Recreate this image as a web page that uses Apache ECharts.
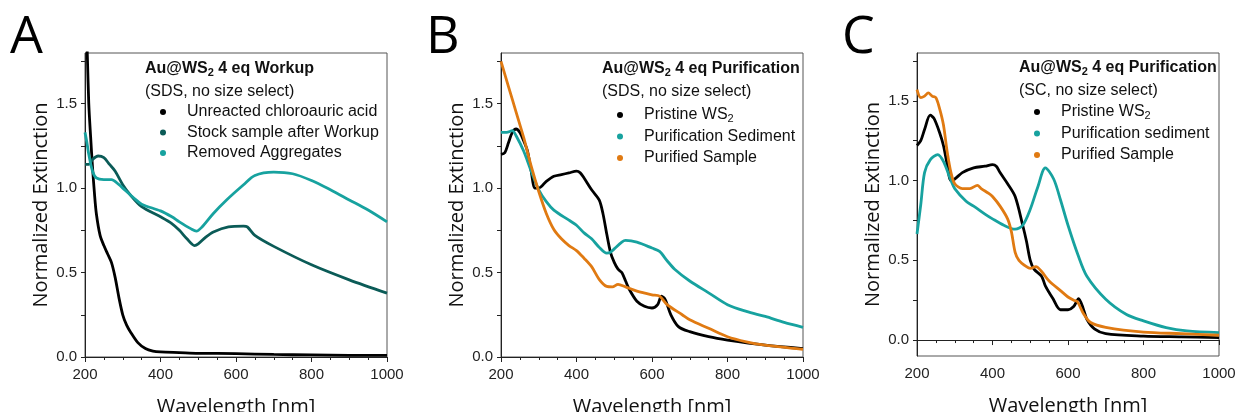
<!DOCTYPE html>
<html>
<head>
<meta charset="utf-8">
<script src="https://cdn.jsdelivr.net/npm/echarts@6/dist/echarts.min.js"></script>
<style>
html,body{margin:0;padding:0;background:#fff;}
#chart{width:1236px;height:412px;}
</style>
</head>
<body>
<div id="chart"></div>
<script>
// ---------- Data ----------
const xTickLabels = [200, 400, 600, 800, 1000];
const yTickLabels = [0, 0.5, 1.0, 1.5];
const yMinorTicks = [0, 0.25, 0.5, 0.75, 1.0, 1.25, 1.5, 1.75];

// Panel A
const A_unreacted_wl  = [200,203,206,210,215,220,225,230,240,250,260,270,280,290,300,310,320,340,360,380,400,450,500,600,700,800,900,1000];
const A_unreacted_val = [2.2,2.0,1.8,1.5,1.3,1.12,0.97,0.85,0.72,0.66,0.61,0.56,0.47,0.35,0.25,0.19,0.15,0.085,0.05,0.035,0.03,0.026,0.022,0.02,0.015,0.012,0.01,0.01];
const A_stock_wl  = [200,210,220,235,250,265,280,300,320,350,400,430,450,470,490,500,520,540,580,620,630,650,700,800,900,1000];
const A_stock_val = [1.14,1.14,1.17,1.19,1.18,1.14,1.10,1.02,0.96,0.89,0.83,0.79,0.75,0.70,0.66,0.67,0.71,0.74,0.77,0.775,0.77,0.72,0.655,0.546,0.457,0.378];
const A_removed_wl  = [200,205,210,220,230,250,270,290,300,330,350,400,430,450,480,495,510,540,575,620,650,700,750,800,850,900,950,1000];
const A_removed_val = [1.33,1.27,1.20,1.10,1.06,1.05,1.05,1.02,1.00,0.94,0.905,0.865,0.83,0.80,0.76,0.745,0.77,0.85,0.93,1.02,1.075,1.095,1.085,1.045,0.99,0.93,0.87,0.80];

// Panel B
const B_pristine_wl  = [200,210,220,230,240,250,260,270,280,290,300,320,340,360,380,400,410,420,440,460,470,480,490,500,510,520,530,540,560,580,600,615,625,635,650,670,700,750,800,900,1000];
const B_pristine_val = [1.20,1.21,1.27,1.33,1.35,1.33,1.28,1.22,1.10,1.00,1.00,1.04,1.07,1.08,1.09,1.10,1.09,1.06,0.99,0.93,0.85,0.73,0.62,0.56,0.52,0.50,0.45,0.40,0.33,0.30,0.29,0.31,0.36,0.34,0.25,0.18,0.15,0.12,0.10,0.07,0.05];
const B_sediment_wl  = [200,215,230,240,260,280,300,320,340,380,400,420,440,460,480,490,500,520,530,560,600,620,640,660,700,750,800,850,900,950,1000];
const B_sediment_val = [1.33,1.33,1.34,1.31,1.22,1.10,0.99,0.92,0.87,0.81,0.78,0.735,0.70,0.65,0.615,0.62,0.64,0.68,0.69,0.68,0.645,0.625,0.57,0.52,0.45,0.38,0.31,0.27,0.24,0.205,0.176];
const B_purified_wl  = [200,220,240,260,280,300,320,340,360,380,400,420,440,460,480,495,510,530,560,600,620,640,680,700,750,800,850,900,1000];
const B_purified_val = [1.75,1.60,1.45,1.30,1.13,0.98,0.85,0.755,0.70,0.66,0.63,0.585,0.535,0.46,0.418,0.415,0.43,0.415,0.39,0.368,0.36,0.31,0.25,0.22,0.17,0.12,0.09,0.07,0.045];

// Panel C
const C_pristine_wl  = [200,210,220,235,245,260,270,280,290,300,320,350,380,400,410,420,440,460,480,490,500,510,530,540,560,580,600,615,628,640,650,670,700,800,900,1000];
const C_pristine_val = [1.22,1.25,1.32,1.41,1.39,1.30,1.22,1.10,1.00,1.01,1.05,1.08,1.09,1.10,1.09,1.05,0.98,0.90,0.72,0.62,0.50,0.445,0.40,0.34,0.26,0.19,0.19,0.21,0.26,0.20,0.13,0.07,0.04,0.025,0.02,0.015];
const C_sediment_wl  = [200,210,220,235,255,270,290,300,330,350,380,400,430,460,480,500,520,540,562,580,600,627,650,700,755,800,860,915,1000];
const C_sediment_val = [0.665,0.85,1.05,1.13,1.163,1.12,1.00,0.95,0.87,0.84,0.79,0.76,0.72,0.695,0.72,0.82,0.96,1.08,1.01,0.88,0.72,0.53,0.40,0.256,0.16,0.12,0.078,0.057,0.046];
const C_purified_wl  = [200,210,220,230,240,250,260,270,280,290,300,320,340,360,370,390,400,420,440,450,460,470,490,500,515,530,550,580,600,615,625,640,660,700,800,900,1000];
const C_purified_val = [1.57,1.52,1.53,1.55,1.53,1.52,1.45,1.35,1.18,1.05,0.98,0.95,0.95,0.97,0.95,0.92,0.90,0.84,0.76,0.68,0.55,0.50,0.46,0.45,0.46,0.43,0.37,0.31,0.27,0.25,0.24,0.17,0.11,0.08,0.05,0.04,0.03];

// ---------- Styling ----------
const COL_BLACK = '#000000';
const COL_DTEAL = '#0b5b57';
const COL_CYAN  = '#17a29f';
const COL_ORANGE = '#e07a12';
const TICK_FONT = '"Liberation Sans", Arial, sans-serif';
const NAME_FONT = '"Open Sans", "Noto Sans", sans-serif';

const pair = (wl, v) => wl.map((w, i) => [w, v[i]]);

const grids = [
  {left: 85,  top: 53, width: 302, height: 304},
  {left: 501, top: 53, width: 302, height: 304},
  {left: 917, top: 53, width: 302, height: 303}
];
const yMins = [0, 0, -0.1];

const xAxes = grids.map((g, i) => ({
  type: 'value', gridIndex: i, min: 200, max: 1000, interval: 200,
  axisLine: {show: true, lineStyle: {color: '#222', width: 1}},
  axisTick: {show: true, inside: false, length: 5, lineStyle: {color: '#222'}},
  minorTick: {show: true, splitNumber: 4, length: 3, lineStyle: {color: '#222'}},
  splitLine: {show: false}, minorSplitLine: {show: false},
  axisLabel: {fontFamily: TICK_FONT, fontSize: 15, color: '#222', margin: 10,
    customValues: xTickLabels, formatter: v => String(Math.round(v))},
  name: 'Wavelength [nm]', nameLocation: 'middle', nameGap: 40,
  nameTextStyle: {fontFamily: NAME_FONT, fontSize: 20, color: '#111'}
}));

const yAxes = grids.map((g, i) => ({
  type: 'value', gridIndex: i, min: yMins[i], max: 1.8,
  axisLine: {show: true, lineStyle: {color: '#222', width: 1}},
  axisTick: {show: true, inside: false, length: 4, customValues: yMinorTicks, lineStyle: {color: '#222'}},
  splitLine: {show: false},
  axisLabel: {fontFamily: TICK_FONT, fontSize: 15, color: '#222', margin: 8, padding: [4, 0, 0, 0],
    customValues: yTickLabels, formatter: v => Number(v).toFixed(1)},
  name: 'Normalized Extinction', nameLocation: 'middle', nameGap: 34,
  nameTextStyle: {fontFamily: NAME_FONT, fontSize: 20, color: '#111'}
}));

function mkSeries(name, wl, val, color, idx) {
  return {
    type: 'line', name: name, xAxisIndex: idx, yAxisIndex: idx,
    data: pair(wl, val), showSymbol: false, smooth: 0.3, clip: true,
    lineStyle: {color: color, width: 2.8}, itemStyle: {color: color},
    emphasis: {disabled: true}
  };
}

const series = [
  mkSeries('Unreacted chloroauric acid', A_unreacted_wl, A_unreacted_val, COL_BLACK, 0),
  mkSeries('Stock sample after Workup', A_stock_wl, A_stock_val, COL_DTEAL, 0),
  mkSeries('Removed Aggregates', A_removed_wl, A_removed_val, COL_CYAN, 0),
  mkSeries('Pristine WS2', B_pristine_wl, B_pristine_val, COL_BLACK, 1),
  mkSeries('Purification Sediment', B_sediment_wl, B_sediment_val, COL_CYAN, 1),
  mkSeries('Purified Sample', B_purified_wl, B_purified_val, COL_ORANGE, 1),
  mkSeries('Pristine WS2', C_pristine_wl, C_pristine_val, COL_BLACK, 2),
  mkSeries('Purification sediment', C_sediment_wl, C_sediment_val, COL_CYAN, 2),
  mkSeries('Purified Sample', C_purified_wl, C_purified_val, COL_ORANGE, 2)
];

const legendRich = {
  n: {fontFamily: TICK_FONT, fontSize: 16, color: '#111', lineHeight: 18},
  s: {fontFamily: TICK_FONT, fontSize: 11, color: '#111', lineHeight: 8, verticalAlign: 'bottom'}
};
const legendFmt = name => name === 'Pristine WS2' ? '{n|Pristine WS}{s|2}' : '{n|' + name + '}';

function mkLegend(left, top, gap, names) {
  return {
    orient: 'vertical', left: left, top: top, padding: 0,
    icon: 'circle', itemWidth: 38, itemHeight: 6, itemGap: gap,
    data: names, selectedMode: false,
    formatter: legendFmt,
    textStyle: {fontFamily: TICK_FONT, fontSize: 16, color: '#111', lineHeight: 18, rich: legendRich}
  };
}

const titleRich = {
  b: {fontFamily: TICK_FONT, fontSize: 16, fontWeight: 'bold', color: '#111', lineHeight: 18},
  s: {fontFamily: TICK_FONT, fontSize: 11, fontWeight: 'bold', color: '#111', lineHeight: 8, verticalAlign: 'bottom'}
};
function mkTitle(left, top, rest, sub) {
  return {
    left: left, top: top, padding: 0, itemGap: 5,
    text: '{b|Au@WS}{s|2}{b| ' + rest + '}',
    textStyle: {rich: titleRich, lineHeight: 18},
    subtext: sub,
    subtextStyle: {fontFamily: TICK_FONT, fontSize: 16, color: '#111', lineHeight: 18}
  };
}

const option = {
  backgroundColor: '#ffffff',
  animation: false,
  grid: grids.map(g => Object.assign({show: true, borderColor: '#555', borderWidth: 1,
    backgroundColor: 'transparent', containLabel: false, outerBoundsMode: 'none'}, g)),
  xAxis: xAxes,
  yAxis: yAxes,
  series: series,
  title: [
    mkTitle(145, 60, '4 eq Workup', '(SDS, no size select)'),
    mkTitle(602, 60, '4 eq Purification', '(SDS, no size select)'),
    mkTitle(1019, 59, '4 eq Purification', '(SC, no size select)')
  ],
  legend: [
    mkLegend(160, 103, 2.5, ['Unreacted chloroauric acid', 'Stock sample after Workup', 'Removed Aggregates']),
    mkLegend(617, 106, 3.5, ['Pristine WS2', 'Purification Sediment', 'Purified Sample']),
    mkLegend(1034, 103, 3.5, ['Pristine WS2', 'Purification sediment', 'Purified Sample'])
  ],
  graphic: [
    {type: 'text', left: 10, top: 12, style: {text: 'A', font: '52px "Open Sans", sans-serif', fill: '#000'}},
    {type: 'text', left: 426, top: 12, style: {text: 'B', font: '52px "Open Sans", sans-serif', fill: '#000'}},
    {type: 'text', left: 842, top: 12, style: {text: 'C', font: '52px "Open Sans", sans-serif', fill: '#000'}}
  ]
};

const chart = echarts.init(document.getElementById('chart'), null, {renderer: 'canvas'});
chart.setOption(option);
</script>
</body>
</html>
